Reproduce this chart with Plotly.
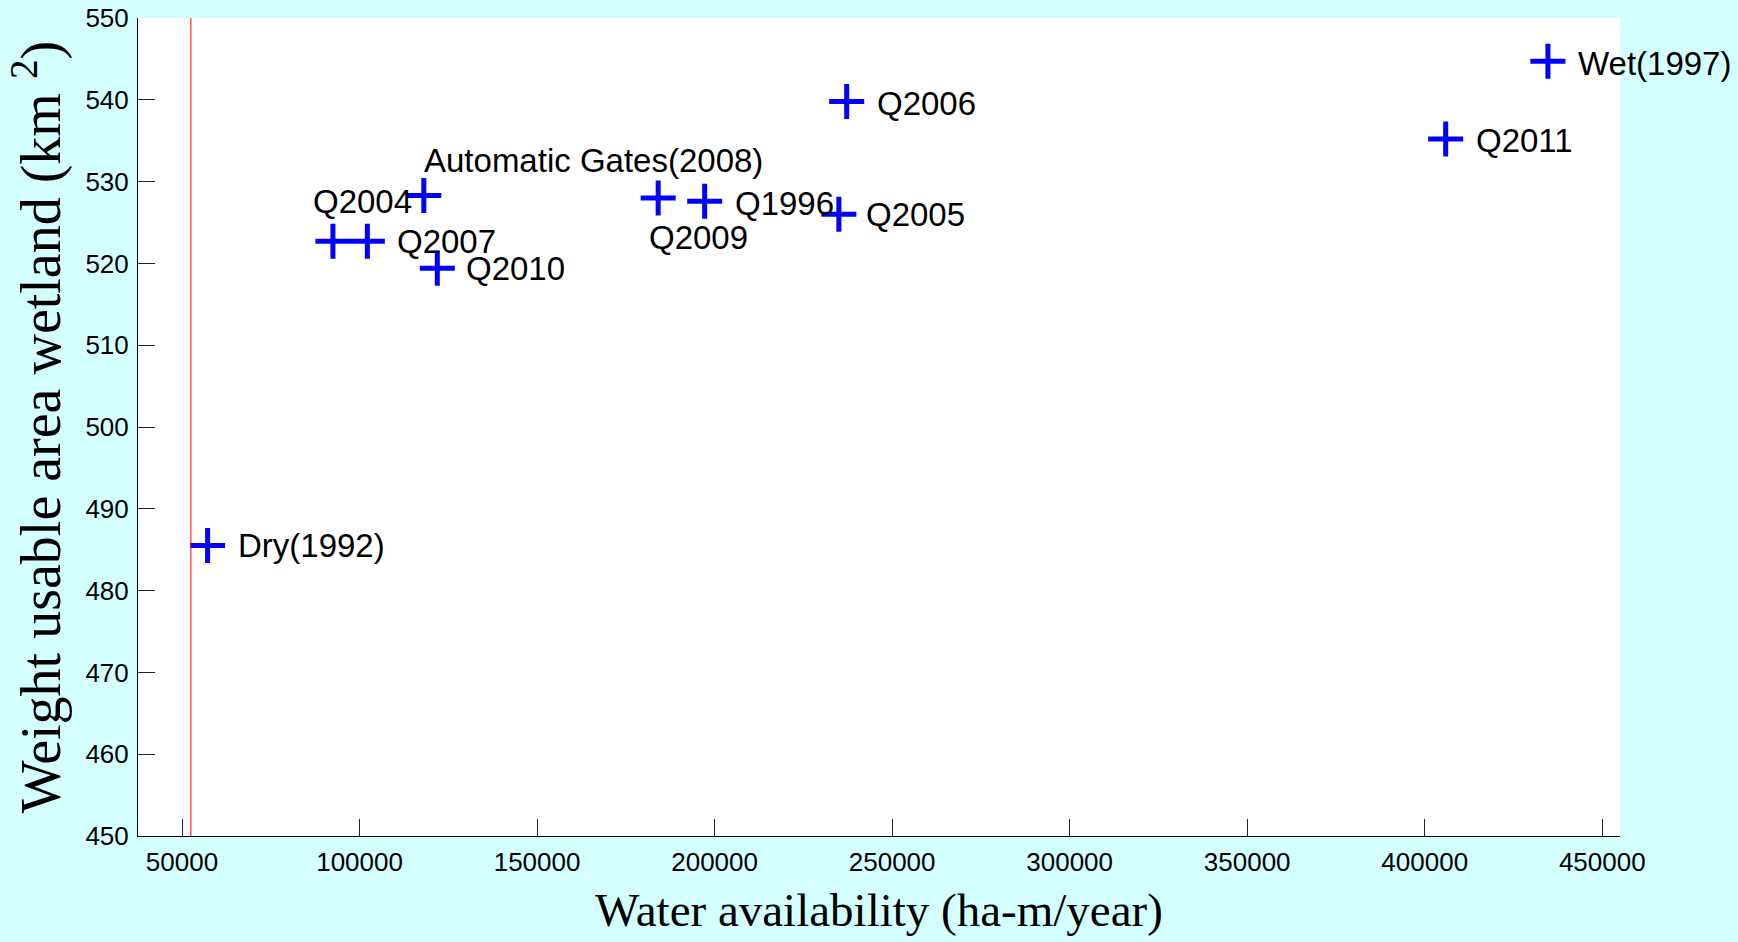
import plotly.graph_objects as go

# Water availability (ha-m/year) and weighted usable wetland area (km^2)
scenarios = ["Dry(1992)", "Q2004", "Q2007", "Automatic Gates(2008)", "Q2010",
             "Q2009", "Q1996", "Q2005", "Q2006", "Q2011", "Wet(1997)"]
water = [57200, 92500, 102200, 118100, 121900,
         184100, 197200, 235000, 237200, 405900, 434700]
wua = [485.5, 522.7, 522.7, 528.3, 519.4,
       528.0, 527.6, 526.0, 539.8, 535.2, 544.7]

# Minimum flow reference line
min_flow = 52500

x_ticks = [50000, 100000, 150000, 200000, 250000, 300000, 350000, 400000, 450000]
x_tick_text = ["50000", "100000", "150000", "200000", "250000", "300000",
               "350000", "400000", "450000"]
y_ticks = [450, 460, 470, 480, 490, 500, 510, 520, 530, 540, 550]

# Label placement (pixel offsets from each point)
label_xshift = [28, -22, 28, -2, 27, -11, 28, 25, 28, 28, 28]
label_yshift = [0, 40, 0, 35, 0, -40, -2, 0, -2, -1, -2]

BG = "#D4FFFF"

fig = go.Figure()
fig.add_trace(go.Scatter(
    x=water, y=wua, mode="markers",
    marker=dict(symbol="cross-thin", size=25, color="#0000FF",
                line=dict(color="#0000FF", width=5)),
    showlegend=False, cliponaxis=False,
))

for name, xv, yv, dx, dy in zip(scenarios, water, wua, label_xshift, label_yshift):
    fig.add_annotation(
        x=xv, y=yv, xref="x", yref="y", text=name, showarrow=False,
        xanchor="left", yanchor="middle", xshift=dx, yshift=dy,
        font=dict(family="Liberation Sans, Arial, sans-serif", size=33, color="black"),
    )

fig.add_shape(type="line", xref="x", yref="paper", x0=min_flow, x1=min_flow,
              y0=0, y1=1, line=dict(color="#FF0000", width=1))

axis_font = dict(family="Liberation Sans, Arial, sans-serif", size=26, color="black")
title_font_family = "Liberation Serif, Times New Roman, serif"

fig.update_xaxes(
    range=[37600, 455000], tickvals=x_ticks, ticktext=x_tick_text,
    ticks="inside", ticklen=17, tickcolor="#222222", tickwidth=1,
    showline=True, linecolor="black", linewidth=1, mirror=False,
    showgrid=False, zeroline=False, tickfont=axis_font, ticklabelstandoff=3,
    title=dict(text="Water availability (ha-m/year)",
               font=dict(family=title_font_family, size=47, color="black"),
               standoff=16),
)
fig.update_yaxes(
    range=[450, 550], tickvals=y_ticks,
    ticks="inside", ticklen=17, tickcolor="#222222", tickwidth=1,
    showline=True, linecolor="black", linewidth=1, mirror=False,
    showgrid=False, zeroline=False, tickfont=axis_font, ticklabelstandoff=3,
    title=dict(text="Weight usable area wetland (km <sup>2</sup>)",
               font=dict(family=title_font_family, size=56, color="black"),
               standoff=6),
)

fig.update_layout(
    width=1738, height=942, autosize=False,
    margin=dict(l=138, r=118, t=18, b=106, autoexpand=False),
    paper_bgcolor=BG, plot_bgcolor="white",
)

fig.write_html("out.html")
